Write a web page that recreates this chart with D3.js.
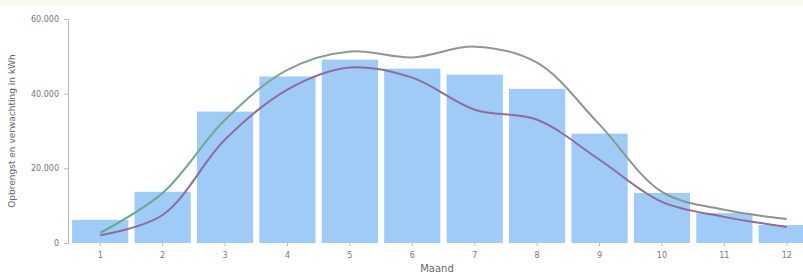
<!DOCTYPE html>
<html>
<head>
<meta charset="utf-8">
<script src="https://cdn.jsdelivr.net/npm/d3@7"></script>
<style>
  body { margin: 0; background: #fff; }
  .tick text { font-family: "DejaVu Sans", sans-serif; font-size: 8px; fill: #777; }
  .tick line { stroke: #bbb; }
  .domain { stroke: #bbb; }
</style>
</head>
<body>
<div class="chart"></div>
<script>
// chart data
var months = ["1", "2", "3", "4", "5", "6", "7", "8", "9", "10", "11", "12"];
var opbrengst = [6200, 13700, 35200, 44600, 49100, 46700, 45100, 41300, 29300, 13400, 8000, 4800];
var verwachtingHoog = [2700, 13400, 33000, 46400, 51300, 49700, 52600, 48300, 31700, 13700, 8900, 6400];
var verwachtingLaag = [2100, 7500, 27700, 41100, 47000, 44300, 35700, 33000, 22300, 11000, 7000, 4300];
var yTicks = [0, 20000, 40000, 60000];

var svgWidth = 803;
var svgHeight = 273;

var margin = {top: 19, left: 69, bottom: 30};
var plotRight = 818; // last bar runs past the edge
var height = svgHeight - margin.top - margin.bottom;

var svg = d3.select(".chart")
    .append("svg")
    .attr("width", svgWidth)
    .attr("height", svgHeight);

// faint band along the top
svg.append("rect")
    .attr("width", svgWidth)
    .attr("height", 5)
    .attr("fill", "#f7faec");

var chartGroup = svg.append("g")
    .attr("transform", `translate(${margin.left}, ${margin.top})`);

var xBand = d3.scaleBand()
    .domain(months)
    .range([0, plotRight - margin.left])
    .paddingInner(0.1)
    .paddingOuter(0.05);

var yLinear = d3.scaleLinear()
    .domain([0, 60000])
    .range([height, 0]);

var fmt = d => d3.format(",")(d).replace(/,/g, ".");

// bars
chartGroup.selectAll("rect.bar")
    .data(opbrengst)
    .enter()
    .append("rect")
    .attr("class", "bar")
    .attr("x", (d, i) => xBand(months[i]))
    .attr("y", d => yLinear(d))
    .attr("width", xBand.bandwidth())
    .attr("height", d => height - yLinear(d))
    .attr("fill", "#9fcbf6");

// axes
var leftAxis = d3.axisLeft(yLinear)
    .tickValues(yTicks)
    .tickFormat(d => d === 0 ? "0" : fmt(d))
    .tickSize(4)
    .tickPadding(5);

chartGroup.append("g")
    .attr("transform", "translate(-1,0)")
    .call(leftAxis);

var bottomAxis = d3.axisBottom(xBand)
    .tickSize(3)
    .tickPadding(6);

var xAxis = chartGroup.append("g")
    .attr("transform", `translate(0, ${height})`)
    .call(bottomAxis);
xAxis.select(".domain").remove();

// smoothed lines
var lineMaker = d3.line()
    .x((d, i) => xBand(months[i]) + xBand.bandwidth() / 2)
    .y(d => yLinear(d))
    .curve(d3.curveCatmullRom.alpha(0.5));

var grad = svg.append("defs").append("linearGradient")
    .attr("id", "greenGray")
    .attr("gradientUnits", "userSpaceOnUse")
    .attr("x1", 0).attr("x2", plotRight - margin.left)
    .attr("y1", 0).attr("y2", 0);
grad.append("stop").attr("offset", "0%").attr("stop-color", "#4fae84");
grad.append("stop").attr("offset", "25%").attr("stop-color", "#7fa592");
grad.append("stop").attr("offset", "40%").attr("stop-color", "#8c9a92");
grad.append("stop").attr("offset", "100%").attr("stop-color", "#87968d");

chartGroup.append("path")
    .datum(verwachtingHoog)
    .attr("d", lineMaker)
    .attr("fill", "none")
    .attr("stroke", "url(#greenGray)")
    .attr("stroke-width", 2);

chartGroup.append("path")
    .datum(verwachtingLaag)
    .attr("d", lineMaker)
    .attr("fill", "none")
    .attr("stroke", "#8d6c9e")
    .attr("stroke-width", 2);

// axis titles
svg.append("text")
    .attr("transform", `translate(15, ${margin.top + height / 2}) rotate(-90)`)
    .attr("text-anchor", "middle")
    .style("font-family", "DejaVu Sans, sans-serif")
    .style("font-size", "9px")
    .style("fill", "#666")
    .text("Opbrengst en verwachting in kWh");

svg.append("text")
    .attr("x", 437)
    .attr("y", 272)
    .attr("text-anchor", "middle")
    .style("font-family", "DejaVu Sans, sans-serif")
    .style("font-size", "10px")
    .style("fill", "#666")
    .text("Maand");
</script>
</body>
</html>
